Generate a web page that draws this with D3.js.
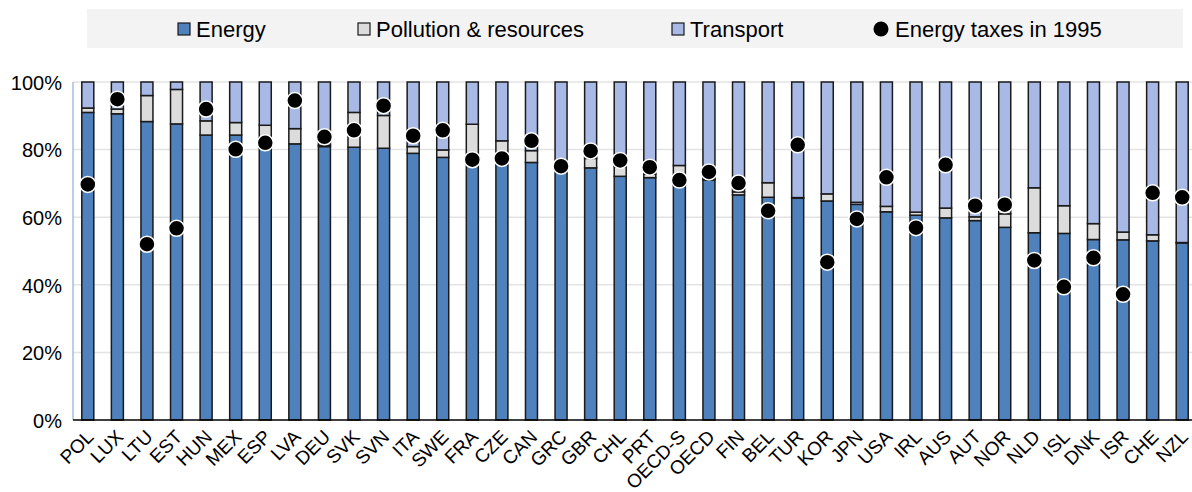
<!DOCTYPE html>
<html>
<head>
    <meta http-equiv="Content-Type" content="text/html;charset=utf-8">
    <title>Environmental tax revenue by base</title>
    <script type="text/javascript" src="https://d3js.org/d3.v7.min.js"></script>
    <style>
        html, body {
            margin: 0;
            padding: 0;
            background: #fff;
        }
        text {
            font-family: "Liberation Sans", Arial, sans-serif;
            fill: #000;
        }
        text.legendText { font-size: 22px; }
        .axis.y text { font-size: 20px; }
        .axis.x text { font-size: 19px; }
        rect.bar {
            stroke: #1a1a1a;
            stroke-width: 1.5px;
        }
    </style>
</head>
<body>
<script type="text/javascript">

    var countries = ["POL", "LUX", "LTU", "EST", "HUN", "MEX", "ESP", "LVA", "DEU", "SVK", "SVN", "ITA", "SWE", "FRA", "CZE", "CAN", "GRC", "GBR", "CHL", "PRT", "OECD-S", "OECD", "FIN", "BEL", "TUR", "KOR", "JPN", "USA", "IRL", "AUS", "AUT", "NOR", "NLD", "ISL", "DNK", "ISR", "CHE", "NZL"];

    // shares of environmentally related tax revenue, %
    var energy =    [91.0, 90.6, 88.3, 87.6, 84.3, 84.3, 80.5, 81.7, 80.9, 80.7, 80.4, 78.9, 77.7, 76.0, 76.0, 76.2, 74.0, 74.6, 72.1, 71.7, 69.5, 71.0, 66.6, 65.9, 65.6, 64.8, 63.8, 61.6, 60.6, 59.8, 59.0, 57.0, 55.4, 55.2, 53.4, 53.3, 53.0, 52.4];
    var pollution = [1.3, 1.4, 7.7, 10.2, 4.2, 3.7, 6.7, 4.5, 0.4, 10.3, 9.7, 2.0, 2.2, 11.5, 6.6, 3.5, 0.3, 2.8, 2.9, 1.0, 5.8, 0.3, 0.9, 4.3, 0.2, 2.1, 0.6, 1.6, 0.9, 2.9, 1.1, 4.0, 13.3, 8.2, 4.7, 2.3, 1.8, 0.1];
    var transport = [7.7, 8.0, 4.0, 2.2, 11.5, 12.0, 12.8, 13.8, 18.7, 9.0, 9.9, 19.1, 20.1, 12.5, 17.4, 20.3, 25.7, 22.6, 25.0, 27.3, 24.7, 28.7, 32.5, 29.8, 34.2, 33.1, 35.6, 36.8, 38.5, 37.3, 39.9, 39.0, 31.3, 36.6, 41.9, 44.4, 45.2, 47.5];
    var energy1995 = [69.7, 94.9, 52.0, 56.7, 92.0, 80.1, 82.0, 94.5, 83.8, 85.7, 93.0, 84.1, 85.7, 77.0, 77.4, 82.6, 75.1, 79.6, 76.8, 74.8, 71.0, 73.4, 70.1, 61.9, 81.4, 46.7, 59.5, 71.8, 56.9, 75.5, 63.4, 63.7, 47.2, 39.4, 48.0, 37.2, 67.2, 65.9];

    var yTicks = [0, 20, 40, 60, 80, 100];
    var seriesNames = ["Energy", "Pollution & resources", "Transport"];
    var colorTable = ["#4f81bd", "#dcdcdc", "#a7b9e4"];

    var W = 1192, H = 492;
    var plot = {left: 73, right: 1197, top: 82, bottom: 420};

    var svg = d3.select("body").append("svg").attr("width", W).attr("height", H);

    var x = d3.scaleBand()
        .domain(countries)
        .range([plot.left, plot.right])
        .paddingInner(0.594)
        .paddingOuter(0.297);

    var y = d3.scaleLinear()
        .domain([0, 100])
        .range([plot.bottom, plot.top]);

    // gridlines
    svg.append("g").attr("class", "grid")
        .selectAll("line")
        .data(yTicks.filter(function(d) { return d > 0; })).enter()
        .append("line")
        .attr("x1", plot.left).attr("x2", W)
        .attr("y1", function(d) { return y(d); })
        .attr("y2", function(d) { return y(d); })
        .style("stroke", "#e3e3e3")
        .style("stroke-width", 1.5);

    // left axis line (thin blue)
    svg.append("line")
        .attr("x1", plot.left).attr("x2", plot.left)
        .attr("y1", y(100)).attr("y2", y(0))
        .style("stroke", "#7d9cc9").style("stroke-width", 1);

    // stacked bars
    var rows = countries.map(function(c, i) {
        return {country: c, Energy: energy[i], "Pollution & resources": pollution[i], Transport: transport[i]};
    });
    var stacked = d3.stack().keys(seriesNames)(rows);

    svg.append("g").selectAll("g")
        .data(stacked).enter()
        .append("g")
        .style("fill", function(d, i) { return colorTable[i]; })
        .selectAll("rect")
        .data(function(d) { return d; }).enter()
        .append("rect")
        .attr("class", "bar")
        .attr("x", function(d) { return x(d.data.country); })
        .attr("width", x.bandwidth())
        .attr("y", function(d) { return y(d[1]); })
        .attr("height", function(d) { return y(d[0]) - y(d[1]); });

    // baseline
    svg.append("line")
        .attr("x1", plot.left).attr("x2", W)
        .attr("y1", y(0)).attr("y2", y(0))
        .style("stroke", "#000").style("stroke-width", 1.5);

    // 1995 dots
    svg.append("g").selectAll("circle")
        .data(energy1995).enter()
        .append("circle")
        .attr("cx", function(d, i) { return x(countries[i]) + x.bandwidth() / 2; })
        .attr("cy", function(d) { return y(d); })
        .attr("r", 8)
        .style("fill", "#000")
        .style("stroke", "#fff")
        .style("stroke-width", 1.5);

    // y axis
    var yAxis = d3.axisLeft(y)
        .tickValues(yTicks)
        .tickSize(0)
        .tickPadding(11)
        .tickFormat(function(d) { return d + "%"; });
    var yg = svg.append("g")
        .attr("class", "axis y")
        .attr("transform", "translate(" + plot.left + ",0)")
        .call(yAxis);
    yg.select(".domain").remove();
    yg.selectAll("text").attr("dy", "0.36em");

    // x axis
    var xAxis = d3.axisBottom(x).tickSize(0).tickPadding(0);
    var xg = svg.append("g")
        .attr("class", "axis x")
        .attr("transform", "translate(0," + plot.bottom + ")")
        .call(xAxis);
    xg.select(".domain").remove();
    xg.selectAll("text")
        .attr("text-anchor", "end")
        .attr("dy", null)
        .attr("y", 0)
        .attr("transform", "translate(7,18) rotate(-45)");

    // legend
    var legend = svg.append("g").attr("class", "legendWrap");
    legend.append("rect")
        .attr("x", 87).attr("y", 9)
        .attr("width", 1096).attr("height", 39)
        .style("fill", "#f3f3f3");

    var legendX = [178, 358, 672];
    seriesNames.forEach(function(name, i) {
        legend.append("rect")
            .attr("x", legendX[i]).attr("y", 23)
            .attr("width", 12).attr("height", 12)
            .style("fill", colorTable[i])
            .style("stroke", "#1a1a1a").style("stroke-width", 1.2);
        legend.append("text")
            .attr("class", "legendText")
            .attr("x", legendX[i] + 18).attr("y", 29)
            .attr("dy", "0.36em")
            .text(name);
    });
    legend.append("circle")
        .attr("cx", 881).attr("cy", 29).attr("r", 7.5)
        .style("fill", "#000");
    legend.append("text")
        .attr("class", "legendText")
        .attr("x", 895).attr("y", 29)
        .attr("dy", "0.36em")
        .text("Energy taxes in 1995");

</script>
</body>
</html>
